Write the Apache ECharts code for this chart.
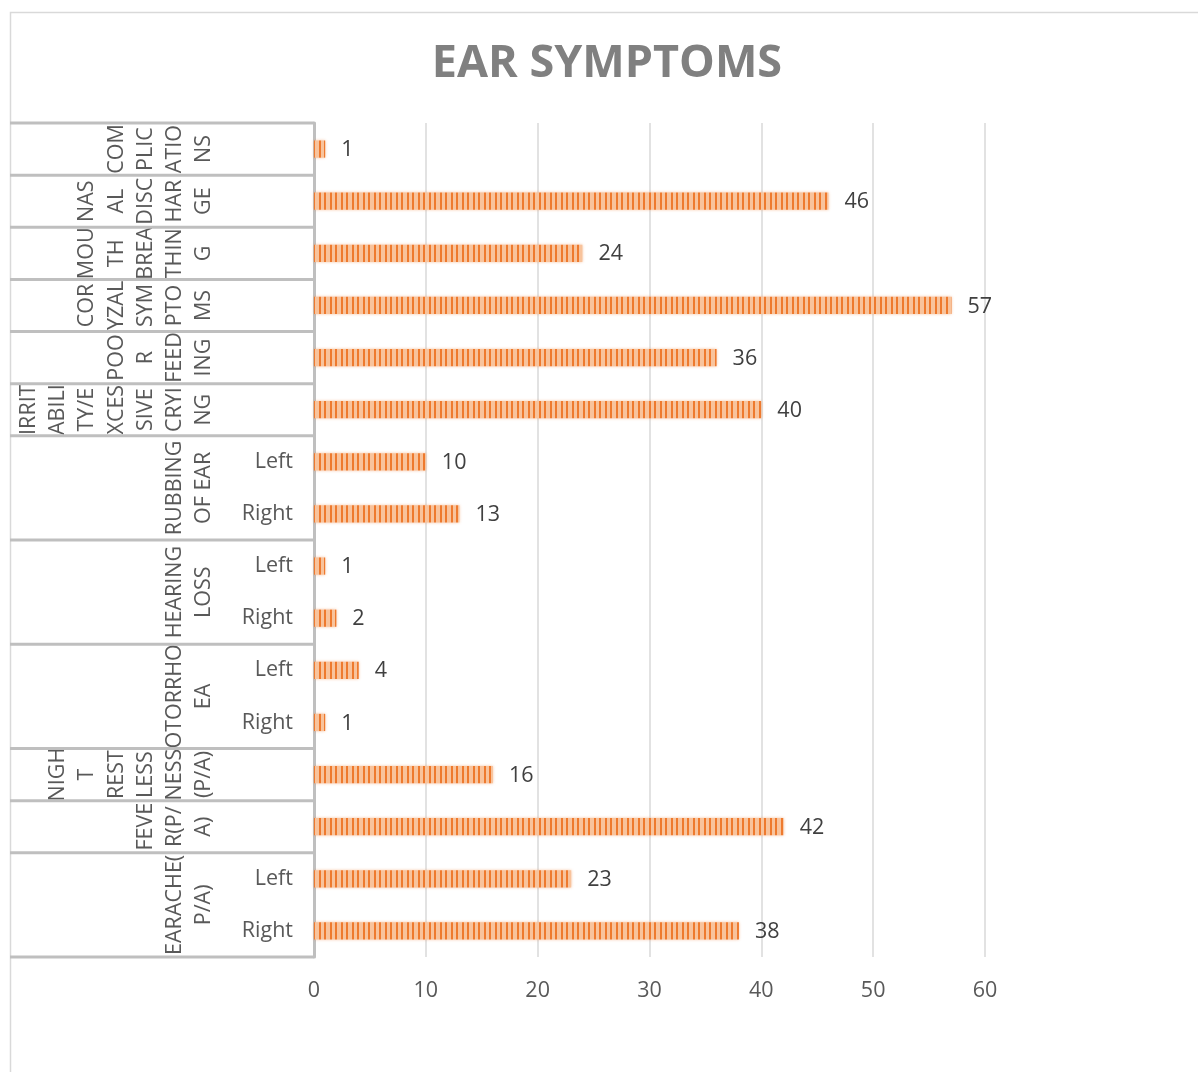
<!DOCTYPE html>
<html>
<head>
<meta charset="utf-8">
<title>EAR SYMPTOMS</title>
<script src="https://cdn.jsdelivr.net/npm/echarts@6/dist/echarts.min.js"></script>
<style>
  html, body { margin: 0; padding: 0; background: #ffffff; }
  #chart { width: 1198px; height: 1072px; }
</style>
</head>
<body>
<div id="chart"></div>
<script>
// Rows read top to bottom
const values = [1, 46, 24, 57, 36, 40, 10, 13, 1, 2, 4, 1, 16, 42, 23, 38];
const sideLabels = ['', '', '', '', '', '', 'Left', 'Right', 'Left', 'Right', 'Left', 'Right', '', '', 'Left', 'Right'];

// Outer category level: wrapped label and the number of rows it spans
const groupLabels = [
  'COM\nPLIC\nATIO\nNS',
  'NAS\nAL\nDISC\nHAR\nGE',
  'MOU\nTH\nBREA\nTHIN\nG',
  'COR\nYZAL\nSYM\nPTO\nMS',
  'POO\nR\nFEED\nING',
  'IRRIT\nABILI\nTY/E\nXCES\nSIVE\nCRYI\nNG',
  'RUBBING\nOF EAR',
  'HEARING\nLOSS',
  'OTORRHO\nEA',
  'NIGH\nT\nREST\nLESS\nNESS\n(P/A)',
  'FEVE\nR(P/\nA)',
  'EARACHE(\nP/A)'
];
const groupSpans = [1, 1, 1, 1, 1, 1, 2, 2, 2, 1, 1, 2];

const xTicks = { min: 0, max: 60, interval: 10 };
const titleText = 'EAR SYMPTOMS';

const FONT = '"Open Sans", "Noto Sans", sans-serif';
const LABEL_SIZE = 21.5;
const rowIds = values.map((v, i) => String(i));

// Striped orange fill for the bars
const tile = document.createElement('canvas');
tile.width = 11; tile.height = 4;
const tctx = tile.getContext('2d');
tctx.fillStyle = '#F8C39C';
tctx.fillRect(0, 0, 11, 4);
tctx.fillStyle = '#EE7A2E';
tctx.fillRect(0, 0, 2, 4);
tctx.fillRect(5, 0, 2, 4);

const chart = echarts.init(document.getElementById('chart'), null, { renderer: 'canvas' });

chart.setOption({
  backgroundColor: '#ffffff',
  animation: false,
  grid: { left: 314, right: 213, top: 123, bottom: 115, containLabel: false },
  xAxis: {
    type: 'value',
    min: xTicks.min, max: xTicks.max, interval: xTicks.interval,
    axisLine: { show: false },
    axisTick: { show: false },
    splitLine: { show: true, lineStyle: { color: '#d9d9d9', width: 1.5 } },
    axisLabel: { fontFamily: FONT, fontSize: LABEL_SIZE, color: '#595959', margin: 23 }
  },
  yAxis: {
    type: 'category',
    inverse: true,
    data: rowIds,
    axisLine: { show: true, lineStyle: { color: '#bfbfbf', width: 3 } },
    axisTick: { show: false },
    splitLine: { show: false },
    axisLabel: {
      fontFamily: FONT, fontSize: LABEL_SIZE, color: '#595959', margin: 21,
      padding: [3, 0, 0, 0],
      formatter: (val, idx) => sideLabels[idx]
    }
  },
  series: [{
    type: 'bar',
    data: values,
    barWidth: '33%',
    itemStyle: {
      color: { image: tile, repeat: 'repeat' },
      shadowBlur: 3,
      shadowColor: 'rgba(237,125,49,0.45)'
    },
    label: {
      show: true, position: 'right', distance: 16,
      fontFamily: FONT, fontSize: LABEL_SIZE, color: '#404040',
      offset: [0, 1]
    }
  }]
});

// Outer-level category table: separators and rotated group names
function buildTable() {
  const c0 = chart.convertToPixel({ yAxisIndex: 0 }, 0);
  const c1 = chart.convertToPixel({ yAxisIndex: 0 }, 1);
  const band = Math.abs(c1 - c0);
  const axisX = chart.convertToPixel({ xAxisIndex: 0 }, 0);
  const tableLeft = 10;
  const elements = [];

  // chart frame
  elements.push({
    type: 'rect', silent: true, z: -10,
    shape: { x: 10.5, y: 12.5, width: 1400, height: 1200 },
    style: { fill: 'none', stroke: '#d9d9d9', lineWidth: 1.5 }
  });

  // title
  elements.push({
    type: 'text', silent: true,
    x: 607, y: 64,
    style: {
      text: titleText, fontFamily: FONT, fontSize: 45, fontWeight: 'bold',
      fill: '#808080', align: 'center', verticalAlign: 'middle'
    }
  });

  let start = 0;
  const boundaries = [c0 - band / 2];
  groupLabels.forEach((label, g) => {
    const span = groupSpans[g];
    const first = chart.convertToPixel({ yAxisIndex: 0 }, start);
    const last = chart.convertToPixel({ yAxisIndex: 0 }, start + span - 1);
    const mid = (first + last) / 2;
    boundaries.push(last + band / 2);
    elements.push({
      type: 'text', silent: true,
      x: 219, y: mid, rotation: Math.PI / 2,
      style: {
        text: label, fontFamily: FONT, fontSize: LABEL_SIZE, fill: '#595959',
        align: 'center', verticalAlign: 'bottom', lineHeight: 29.3
      }
    });
    start += span;
  });

  boundaries.forEach((y) => {
    elements.push({
      type: 'line', silent: true,
      shape: { x1: tableLeft, y1: y, x2: axisX, y2: y },
      style: { stroke: '#bfbfbf', lineWidth: 3 }
    });
  });

  chart.setOption({ graphic: { elements } });
}
buildTable();
</script>
</body>
</html>
